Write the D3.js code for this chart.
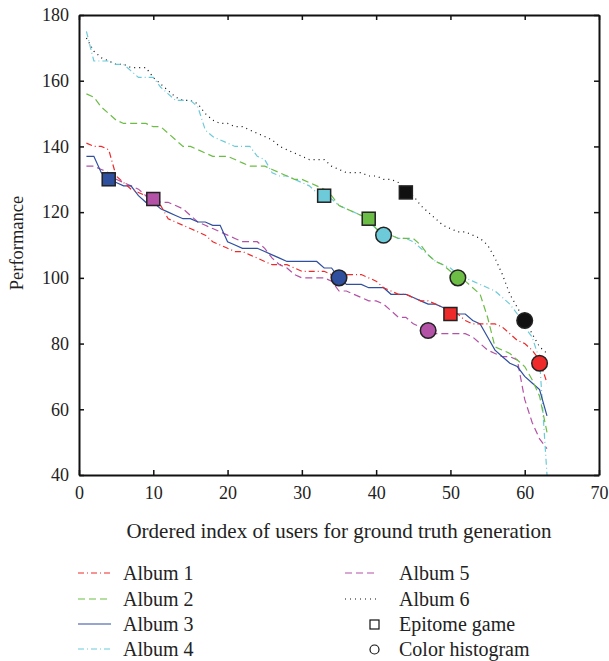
<!DOCTYPE html>
<html>
<head>
<meta charset="utf-8">
<script src="https://cdn.jsdelivr.net/npm/d3@7"></script>
<style>
  body { margin: 0; background: #fff; }
  text { font-family: "Liberation Serif", "DejaVu Serif", serif; fill: #222; }
</style>
</head>
<body>
<div id="chart"></div>
<script>
// values, x = 1..63
const album1 = [141,140,140,139,131,129,127,126,125,123,122,118,117,116,115,114,113,111,110,109,108,108,107,106,105,104,104,104,103,102,102,102,102,101,101,101,101,101,100,99,97,96,95,95,94,93,93,92,91,90,89,87,86,86,86,86,85,83,81,80,78,75,68];
const album2 = [156,155,152,150,148,147,147,147,147,146,146,144,142,140,140,139,138,137,137,137,136,135,134,134,134,133,132,131,130,130,129,128,127,125,122,121,120,119,118,115,113,113,112,112,112,110,107,105,104,102,100,99,97,95,88,79,78,77,75,73,69,64,53];
const album3 = [137,137,132,130,129,128,128,125,123,123,121,120,119,118,118,117,117,116,116,111,110,109,109,109,108,107,106,105,105,105,105,105,103,103,100,98,98,98,97,97,97,95,95,95,94,93,92,92,91,90,89,89,87,86,82,78,76,74,73,70,68,66,58];
const album4 = [175,166,166,166,165,165,163,161,161,161,158,156,154,154,154,152,145,143,142,141,140,140,140,137,136,132,131,131,130,129,128,126,125,124,122,121,120,119,117,115,113,113,112,112,111,109,107,105,104,103,101,100,99,98,97,96,94,92,89,85,82,75,40];
const album5 = [134,134,133,132,130,129,128,127,125,124,123,123,122,121,119,117,116,115,114,113,112,111,111,111,109,106,104,103,101,100,100,100,100,99,96,96,95,94,93,93,92,90,88,88,86,85,84,83,83,83,83,83,82,80,78,77,76,76,75,63,56,51,48];
const album6 = [173,169,167,166,165,165,164,164,164,161,159,157,155,154,154,153,150,148,147,147,146,146,145,144,143,142,140,139,138,137,136,136,136,134,133,132,132,132,131,131,130,130,129,126,125,122,120,118,116,115,114,114,113,112,110,106,101,95,91,87,83,79,77];

const albumNames = ['Album 1', 'Album 2', 'Album 3', 'Album 4', 'Album 5', 'Album 6'];
const albumColors = ['#ee2a2a', '#6cbd45', '#2f4f9f', '#6dcbd9', '#b352a6', '#111111'];
const albumDash = ['6,3,1,3', '7,4', null, '6,3,1,3', '7,4', '1,4'];

// Epitome game (squares) and Color histogram (circles), one per album
const epitomeX = [50, 39, 4, 33, 10, 44];
const epitomeY = [89, 118, 130, 125, 124, 126];
const histX = [62, 51, 35, 41, 47, 60];
const histY = [74, 100, 100, 113, 84, 87];

const xTicks = [0, 10, 20, 30, 40, 50, 60, 70];
const yTicks = [40, 60, 80, 100, 120, 140, 160, 180];

const width = 609, height = 661;
const mLeft = 79, mRight = 599, mTop = 15, mBottom = 475;

const svg = d3.select('#chart').append('svg')
    .attr('width', width)
    .attr('height', height);

const x = d3.scaleLinear().domain([0, 70]).range([mLeft, mRight]);
const y = d3.scaleLinear().domain([40, 180]).range([mBottom, mTop]);

const series = [album1, album2, album3, album4, album5, album6];

const line = d3.line()
    .x((d, i) => x(i + 1))
    .y(d => y(d));

const plot = svg.append('g');

// draw in reverse so album 1 sits on top
series.slice().reverse().forEach((vals, k) => {
    const i = series.length - 1 - k;
    plot.append('path')
        .datum(vals)
        .attr('d', line)
        .attr('fill', 'none')
        .attr('stroke', albumColors[i])
        .attr('stroke-width', 1.2)
        .attr('stroke-dasharray', albumDash[i]);
});

// markers
plot.selectAll('rect.epi')
    .data(epitomeX)
    .enter()
    .append('rect')
        .attr('class', 'epi')
        .attr('x', d => x(d) - 6.5)
        .attr('y', (d, i) => y(epitomeY[i]) - 6.5)
        .attr('width', 13)
        .attr('height', 13)
        .attr('fill', (d, i) => albumColors[i])
        .attr('stroke', '#222')
        .attr('stroke-width', 1.5);

plot.selectAll('circle.hist')
    .data(histX)
    .enter()
    .append('circle')
        .attr('class', 'hist')
        .attr('cx', d => x(d))
        .attr('cy', (d, i) => y(histY[i]))
        .attr('r', 7.8)
        .attr('fill', (d, i) => albumColors[i])
        .attr('stroke', '#222')
        .attr('stroke-width', 1.5);

// box axes with inward ticks
const axes = svg.append('g');
axes.append('g')
    .attr('transform', `translate(0,${mBottom})`)
    .call(d3.axisBottom(x).tickValues(xTicks).tickSizeInner(-5).tickSizeOuter(0).tickPadding(11));
axes.append('g')
    .attr('transform', `translate(0,${mTop})`)
    .call(d3.axisTop(x).tickValues(xTicks).tickSizeInner(-5).tickSizeOuter(0).tickFormat(''));
axes.append('g')
    .attr('transform', `translate(${mLeft},0)`)
    .call(d3.axisLeft(y).tickValues(yTicks).tickSizeInner(-5).tickSizeOuter(0).tickPadding(10));
axes.append('g')
    .attr('transform', `translate(${mRight},0)`)
    .call(d3.axisRight(y).tickValues(yTicks).tickSizeInner(-5).tickSizeOuter(0).tickFormat(''));

axes.selectAll('.domain').attr('stroke', '#111').attr('stroke-width', 2);
axes.selectAll('.tick line').attr('stroke', '#111').attr('stroke-width', 1.5);
axes.selectAll('.tick text')
    .style('font-family', '"Liberation Serif", "DejaVu Serif", serif')
    .style('font-size', '18px')
    .attr('fill', '#222');

// axis titles
svg.append('text')
    .attr('x', 339)
    .attr('y', 538)
    .attr('text-anchor', 'middle')
    .style('font-size', '21px')
    .text('Ordered index of users for ground truth generation');

svg.append('text')
    .attr('transform', 'translate(23,243) rotate(-90)')
    .attr('text-anchor', 'middle')
    .style('font-size', '18.5px')
    .text('Performance');

// legend
const legendRows = [575, 601, 626, 651];
const legend = svg.append('g');

albumNames.forEach((name, i) => {
    const col = i < 4 ? 0 : 1;
    const row = i < 4 ? i : i - 4;
    const lx = col === 0 ? 78 : 345;
    const tx = col === 0 ? 123 : 399;
    const ly = legendRows[row];
    legend.append('line')
        .attr('x1', lx).attr('x2', lx + 33)
        .attr('y1', ly - 2).attr('y2', ly - 2)
        .attr('stroke', albumColors[i])
        .attr('stroke-width', 1.2)
        .attr('stroke-dasharray', albumDash[i]);
    legend.append('text')
        .attr('x', tx)
        .attr('y', ly + 5)
        .style('font-size', '20px')
        .text(name);
});

legend.append('rect')
    .attr('x', 370).attr('y', legendRows[2] - 6)
    .attr('width', 9).attr('height', 9)
    .attr('fill', 'none')
    .attr('stroke', '#111')
    .attr('stroke-width', 1.2);
legend.append('text')
    .attr('x', 399).attr('y', legendRows[2] + 5)
    .style('font-size', '20px')
    .text('Epitome game');

legend.append('circle')
    .attr('cx', 374.5).attr('cy', legendRows[3] - 1.5)
    .attr('r', 4.5)
    .attr('fill', 'none')
    .attr('stroke', '#111')
    .attr('stroke-width', 1.2);
legend.append('text')
    .attr('x', 399).attr('y', legendRows[3] + 5)
    .style('font-size', '20px')
    .text('Color histogram');
</script>
</body>
</html>
